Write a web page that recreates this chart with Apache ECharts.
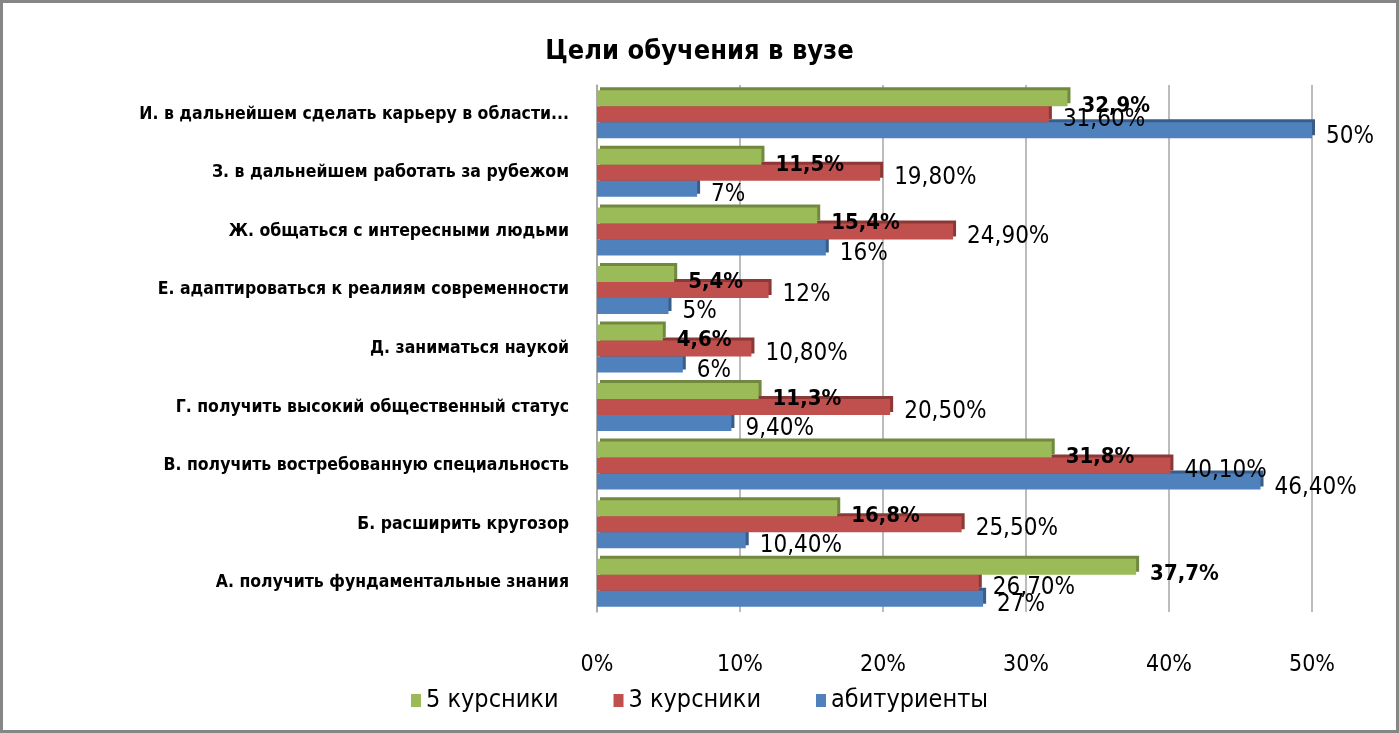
<!DOCTYPE html>
<html>
<head>
<meta charset="utf-8">
<title>Цели обучения в вузе</title>
<script src="https://cdn.jsdelivr.net/npm/echarts@6/dist/echarts.min.js"></script>
<style>
    html, body { margin: 0; padding: 0; background: #fff; }
    #chart { width: 1399px; height: 733px; box-sizing: border-box; border: 3px solid #868686; }
</style>
</head>
<body>
<div id="chart"></div>
<script>
// категории снизу вверх (ось Y в echarts идет снизу)
var arr_category = [
    "А. получить фундаментальные знания",
    "Б. расширить кругозор",
    "В. получить востребованную специальность",
    "Г. получить высокий общественный статус",
    "Д. заниматься наукой",
    "Е. адаптироваться к реалиям современности",
    "Ж. общаться с интересными людьми",
    "З. в дальнейшем работать за рубежом",
    "И. в дальнейшем сделать карьеру в области..."
];
var arr_header = ["5 курсники", "3 курсники", "абитуриенты"];
var arr_kurs5 = [37.7, 16.8, 31.8, 11.3, 4.6, 5.4, 15.4, 11.5, 32.9];
var arr_kurs3 = [26.7, 25.5, 40.1, 20.5, 10.8, 12, 24.9, 19.8, 31.6];
var arr_abit = [27, 10.4, 46.4, 9.4, 6, 5, 16, 7, 50];
var arr_color = ["#9bbb59", "#c0504d", "#4f81bd"];
var arr_shade = ["#71893f", "#8c3836", "#385d8a"];

var FONT = '"DejaVu Sans Condensed", "Liberation Sans", sans-serif';

function fmtComma(v, digits) {
    return v.toFixed(digits).replace('.', ',') + '%';
}

// зеленые - одна цифра после запятой, остальные - две (целые без дробной части)
function fmtGreen(p) { return fmtComma(p.value, 1); }
function fmtOther(p) {
    return Math.round(p.value) === p.value ? p.value + '%' : fmtComma(p.value, 2);
}

var chart = echarts.init(document.getElementById('chart'));

function makeSeries(idx, data, fmt, bold, size, offset) {
    return {
        name: arr_header[idx],
        type: 'bar',
        data: data,
        barWidth: 16,
        barGap: '0%',
        z: 5 - idx,
        itemStyle: {
            color: arr_color[idx],
            shadowColor: arr_shade[idx],
            shadowOffsetX: 3,
            shadowOffsetY: -3,
            shadowBlur: 0
        },
        label: {
            show: true,
            position: 'right',
            distance: 14,
            offset: offset,
            formatter: fmt,
            fontFamily: FONT,
            fontSize: size,
            fontWeight: bold ? 'bold' : 'normal',
            color: '#000'
        }
    };
}

var option = {
    animation: false,
    title: {
        text: 'Цели обучения в вузе',
        left: 'center',
        top: 30,
        textStyle: { fontFamily: FONT, fontSize: 27, fontWeight: 'bold', color: '#000' }
    },
    legend: {
        data: arr_header,
        bottom: 12,
        left: 'center',
        itemWidth: 10,
        itemHeight: 13,
        itemGap: 55,
        icon: 'rect',
        textStyle: { fontFamily: FONT, fontSize: 25, color: '#000' }
    },
    grid: {
        left: 594,
        right: 84,
        top: 82,
        bottom: 118
    },
    xAxis: {
        type: 'value',
        min: 0,
        max: 50,
        interval: 10,
        axisLine: { show: false },
        axisTick: { show: false },
        axisLabel: {
            formatter: '{value}%',
            margin: 42,
            fontFamily: FONT,
            fontSize: 23,
            color: '#000'
        },
        splitLine: { show: true, lineStyle: { color: '#a6a6a6', width: 1.5 } }
    },
    yAxis: {
        type: 'category',
        data: arr_category,
        axisLine: { show: true, lineStyle: { color: '#a6a6a6', width: 1.5 } },
        axisTick: { show: false },
        axisLabel: {
            margin: 28,
            fontFamily: FONT,
            fontSize: 17.5,
            fontWeight: 'bold',
            color: '#000'
        }
    },
    series: [
        makeSeries(0, arr_kurs5, fmtGreen, true, 22, [0, 8]),
        makeSeries(1, arr_kurs3, fmtOther, false, 24, [0, 5]),
        makeSeries(2, arr_abit, fmtOther, false, 24, [0, 6])
    ]
};

chart.setOption(option);
</script>
</body>
</html>
